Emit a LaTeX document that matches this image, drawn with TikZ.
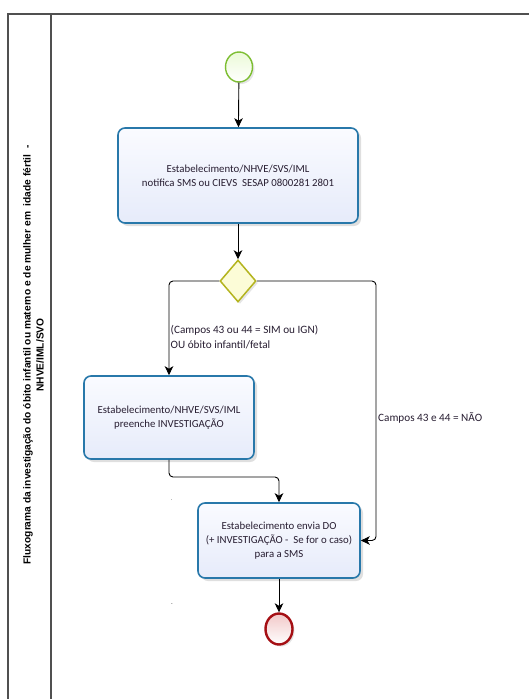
\documentclass[tikz,border=0pt]{standalone}
\usepackage{fontspec}
\setmainfont{Carlito}
\newfontfamily\titlefont{Liberation Sans}
\usetikzlibrary{shapes.geometric,arrows.meta,shadows}
\definecolor{frameclr}{RGB}{80,80,80}
\definecolor{taskborder}{RGB}{40,120,170}
\definecolor{tasktop}{RGB}{250,251,255}
\definecolor{taskbot}{RGB}{230,235,250}
\definecolor{startborder}{RGB}{125,190,50}
\definecolor{startfill}{RGB}{235,250,215}
\definecolor{gateborder}{RGB}{180,180,30}
\definecolor{gatefill}{RGB}{252,252,215}
\definecolor{endborder}{RGB}{165,15,20}
\definecolor{endfill}{RGB}{242,200,200}
\definecolor{txtclr}{RGB}{40,30,50}
\tikzset{
  frame/.style={draw=frameclr, line width=1.3pt},
  taskbox/.style={draw=taskborder, line width=1.6pt, rounded corners=7pt,
    top color=tasktop, bottom color=taskbot, align=center, text=txtclr,
    font=\fontsize{10.8}{14}\selectfont,
    drop shadow={shadow xshift=3pt, shadow yshift=-3pt, opacity=0.25}},
  startev/.style={ellipse, draw=startborder, line width=1.4pt, inner sep=0pt,
    minimum width=27pt, minimum height=30pt, top color=startfill, bottom color=white,
    drop shadow={shadow xshift=2pt, shadow yshift=-2pt, opacity=0.2}},
  endev/.style={ellipse, draw=endborder, line width=2.4pt, inner sep=0pt,
    minimum width=27pt, minimum height=31pt, top color=endfill, bottom color=white,
    drop shadow={shadow xshift=2pt, shadow yshift=-2pt, opacity=0.2}},
  gate/.style={diamond, draw=gateborder, line width=1.5pt, inner sep=0pt,
    minimum width=36pt, minimum height=42pt, fill=gatefill,
    drop shadow={shadow xshift=2pt, shadow yshift=-2pt, opacity=0.2}},
  flow/.style={draw=black, line width=0.9pt, rounded corners=4pt,
    -{Stealth[length=9pt,width=8.5pt,inset=2.5pt]}},
  lbl/.style={font=\fontsize{11.2}{15}\selectfont, text=txtclr, inner sep=0pt, align=left},
}
\begin{document}
\begin{tikzpicture}[x=1pt,y=-1pt]
\useasboundingbox (0,0) rectangle (529,699);
\fill[white] (0,0) rectangle (529,699);
% pool and lane
\draw[frame] (530,14) -- (8,14) -- (8,700);
\draw[frame] (51,14) -- (51,700);
\node[rotate=90, align=center, font=\titlefont\bfseries\fontsize{10.2}{13}\selectfont] (title) at (33.5,355)
  {Fluxograma da investigação do óbito infantil ou materno e de mulher em\ \ idade fértil\ \ -\\NHVE/IML/SVO};
% nodes
\node[startev] (start) at (239,67) {};
\node[taskbox, minimum width=240pt, minimum height=95pt] (t1) at (238,175.5)
  {Estabelecimento/NHVE/SVS/IML\\notifica SMS ou CIEVS\ \ SESAP\ 0800281 2801};
\node[gate] (gw) at (238,281) {};
\node[taskbox, minimum width=170pt, minimum height=83pt] (t2) at (169,417.5)
  {Estabelecimento/NHVE/SVS/IML\\preenche INVESTIGAÇÃO};
\node[taskbox, minimum width=162pt, minimum height=75pt] (t3) at (279,540.5)
  {Estabelecimento envia DO\\(+ INVESTIGAÇÃO -\ \ Se for o caso)\\para a SMS};
\node[endev] (end) at (279,629) {};
% helper points
\coordinate (m1) at (169,477);
\coordinate (r1) at (376,281);
% connectors
\draw[flow] (start) -- (t1);
\draw[flow] (t1) -- (gw);
\draw[flow] (gw.west) -| (t2.north);
\draw[flow] (t2.south) -- (m1) -| (t3.north);
\draw[flow] (gw.east) -- (r1) |- (t3.east);
\draw[flow] (t3) -- (end);
% labels
\node[lbl, anchor=north west] (l1) at (170.5,325)
  {(Campos 43 ou 44 = SIM ou IGN)\\OU óbito infantil/fetal};
\node[lbl, anchor=west] (l2) at (378,418) {Campos 43 e 44 = NÃO};
% stray marks
\node[inner sep=0pt, font=\tiny] (d1) at (171.5,500) {.};
\node[inner sep=0pt, font=\tiny] (d2) at (172,605) {-};
\end{tikzpicture}
\end{document}
